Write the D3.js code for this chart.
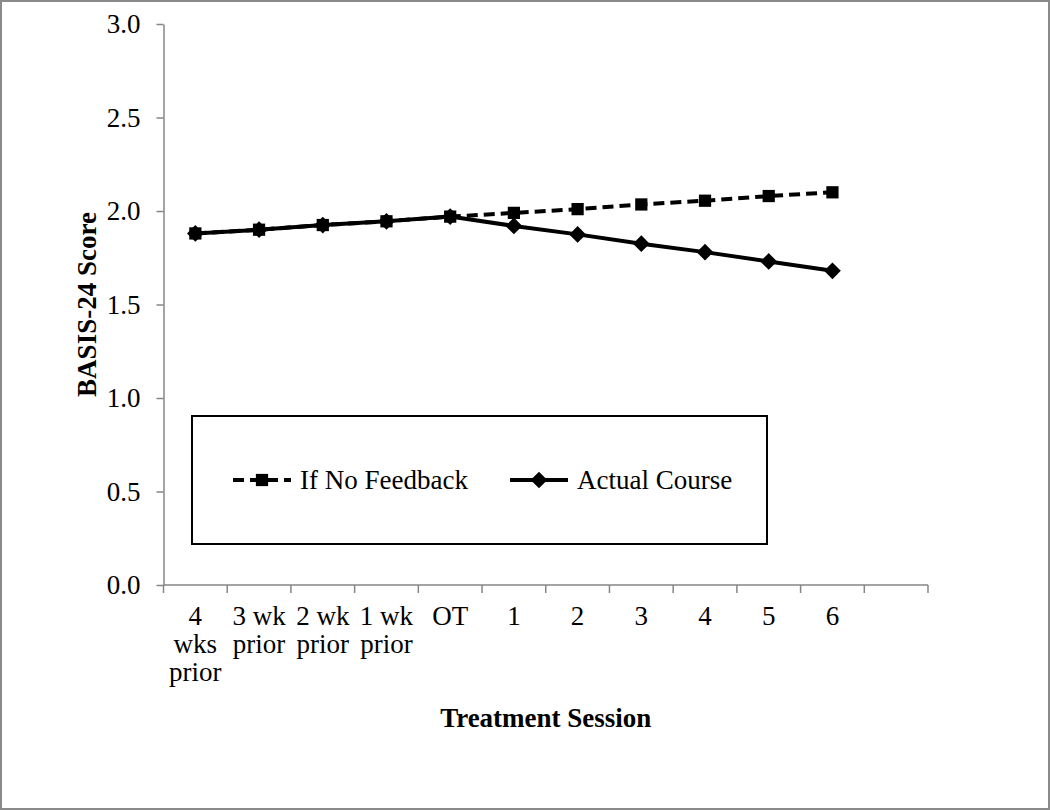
<!DOCTYPE html>
<html>
<head>
<meta charset="utf-8">
<script src="https://cdn.jsdelivr.net/npm/d3@7"></script>
<style>
  body { margin: 0; background: #fff; }
  svg text { font-family: "Liberation Serif", "Times New Roman", serif; fill: #000; }
</style>
</head>
<body>
<svg id="chart" width="1050" height="810"></svg>
<script>
// categories on the x axis ("\n" marks a wrapped line); the last slot is empty
var categories = ['4\nwks\nprior', '3 wk\nprior', '2 wk\nprior', '1 wk\nprior', 'OT', '1', '2', '3', '4', '5', '6', ' '];
var noFeedback = [1.88, 1.90, 1.925, 1.945, 1.97, 1.99, 2.01, 2.035, 2.055, 2.08, 2.10];
var actualCourse = [1.88, 1.90, 1.925, 1.945, 1.97, 1.92, 1.875, 1.825, 1.78, 1.73, 1.68];
var yTicks = [0, 0.5, 1.0, 1.5, 2.0, 2.5, 3.0];
var seriesNames = ['If No Feedback', 'Actual Course'];

var margin = {top: 24, right: 122, bottom: 225, left: 163.5}
    ,width  = 1050 - margin.left - margin.right
    ,height = 810 - margin.top - margin.bottom;

var svg = d3.select('#chart');

// outer frame
svg.append('rect')
   .attr('x', 1).attr('y', 1)
   .attr('width', 1048).attr('height', 808)
   .attr('fill', '#fff')
   .attr('stroke', '#8a8a8a')
   .attr('stroke-width', 2);

var g = svg.append('g')
           .attr('transform', 'translate(' + margin.left + ',' + margin.top + ')');

var x = d3.scaleBand().domain(categories).range([0, width]);
var y = d3.scaleLinear().domain([0, 3]).range([height, 0]);

// y axis
var yAxis = g.append('g')
             .call(d3.axisLeft(y).tickValues(yTicks).tickFormat(d3.format('.1f'))
                     .tickSize(7).tickSizeOuter(0).tickPadding(16));
yAxis.selectAll('text').style('font-size', '27px');
yAxis.selectAll('path, line').attr('stroke', '#868686').attr('stroke-width', 1.5);

// x axis: line + ticks at band edges
var xAxis = g.append('g').attr('transform', 'translate(0,' + height + ')');
xAxis.append('line')
     .attr('x1', 0).attr('x2', width)
     .attr('stroke', '#868686').attr('stroke-width', 1.5);
xAxis.selectAll('line.tick')
     .data(categories.concat(['__end']))
     .enter().append('line')
       .attr('class', 'tick')
       .attr('x1', function(d, i) { return i < categories.length ? x(d) : width; })
       .attr('x2', function(d, i) { return i < categories.length ? x(d) : width; })
       .attr('y1', 0).attr('y2', 8)
       .attr('stroke', '#868686').attr('stroke-width', 1.5);

var labels = xAxis.selectAll('text.cat')
     .data(categories)
     .enter().append('text')
       .attr('class', 'cat')
       .attr('text-anchor', 'middle')
       .style('font-size', '27px')
       .attr('transform', function(d) { return 'translate(' + (x(d) + x.bandwidth() / 2) + ',40)'; });
labels.selectAll('tspan')
      .data(function(d) { return d.split('\n'); })
      .enter().append('tspan')
        .attr('x', 0)
        .attr('dy', function(d, i) { return i === 0 ? 0 : 28; })
        .text(function(d) { return d; });

// axis titles
g.append('text')
 .attr('transform', 'translate(-68,' + height / 2 + ') rotate(-90)')
 .attr('text-anchor', 'middle')
 .style('font-size', '27px').style('font-weight', 'bold')
 .text('BASIS-24 Score');

g.append('text')
 .attr('x', width / 2).attr('y', height + 142)
 .attr('text-anchor', 'middle')
 .style('font-size', '27px').style('font-weight', 'bold')
 .text('Treatment Session');

// lines and markers
var cx = function(d, i) { return x(categories[i]) + x.bandwidth() / 2; };
var line = d3.line().x(cx).y(function(d) { return y(d); });

var square = d3.symbol(d3.symbolSquare, 150)();
var diamond = d3.symbol(d3.symbolSquare, 140)();

g.append('path').datum(noFeedback)
 .attr('d', line).attr('fill', 'none')
 .attr('stroke', '#000').attr('stroke-width', 4)
 .attr('stroke-dasharray', '11,6');
g.selectAll('path.sq').data(noFeedback).enter().append('path')
 .attr('class', 'sq')
 .attr('d', square)
 .attr('transform', function(d, i) { return 'translate(' + cx(d, i) + ',' + y(d) + ')'; });

g.append('path').datum(actualCourse)
 .attr('d', line).attr('fill', 'none')
 .attr('stroke', '#000').attr('stroke-width', 4);
g.selectAll('path.dm').data(actualCourse).enter().append('path')
 .attr('class', 'dm')
 .attr('d', diamond)
 .attr('transform', function(d, i) { return 'translate(' + cx(d, i) + ',' + y(d) + ') rotate(45)'; });

// legend
var legend = svg.append('g');
legend.append('rect')
      .attr('x', 192).attr('y', 416)
      .attr('width', 575).attr('height', 128)
      .attr('fill', '#fff').attr('stroke', '#000').attr('stroke-width', 2);

var items = [
  {name: seriesNames[0], x: 233, dash: '11,6', mark: square, rot: 0},
  {name: seriesNames[1], x: 510, dash: null, mark: diamond, rot: 45}
];
items.forEach(function(it) {
  var li = legend.append('g').attr('transform', 'translate(' + it.x + ',480)');
  li.append('line')
    .attr('x1', 0).attr('x2', 58)
    .attr('stroke', '#000').attr('stroke-width', 4)
    .attr('stroke-dasharray', it.dash);
  li.append('path').attr('d', it.mark)
    .attr('transform', 'translate(29,0) rotate(' + it.rot + ')');
  li.append('text')
    .attr('x', 67).attr('dy', '0.33em')
    .style('font-size', '27px')
    .text(it.name);
});
</script>
</body>
</html>
